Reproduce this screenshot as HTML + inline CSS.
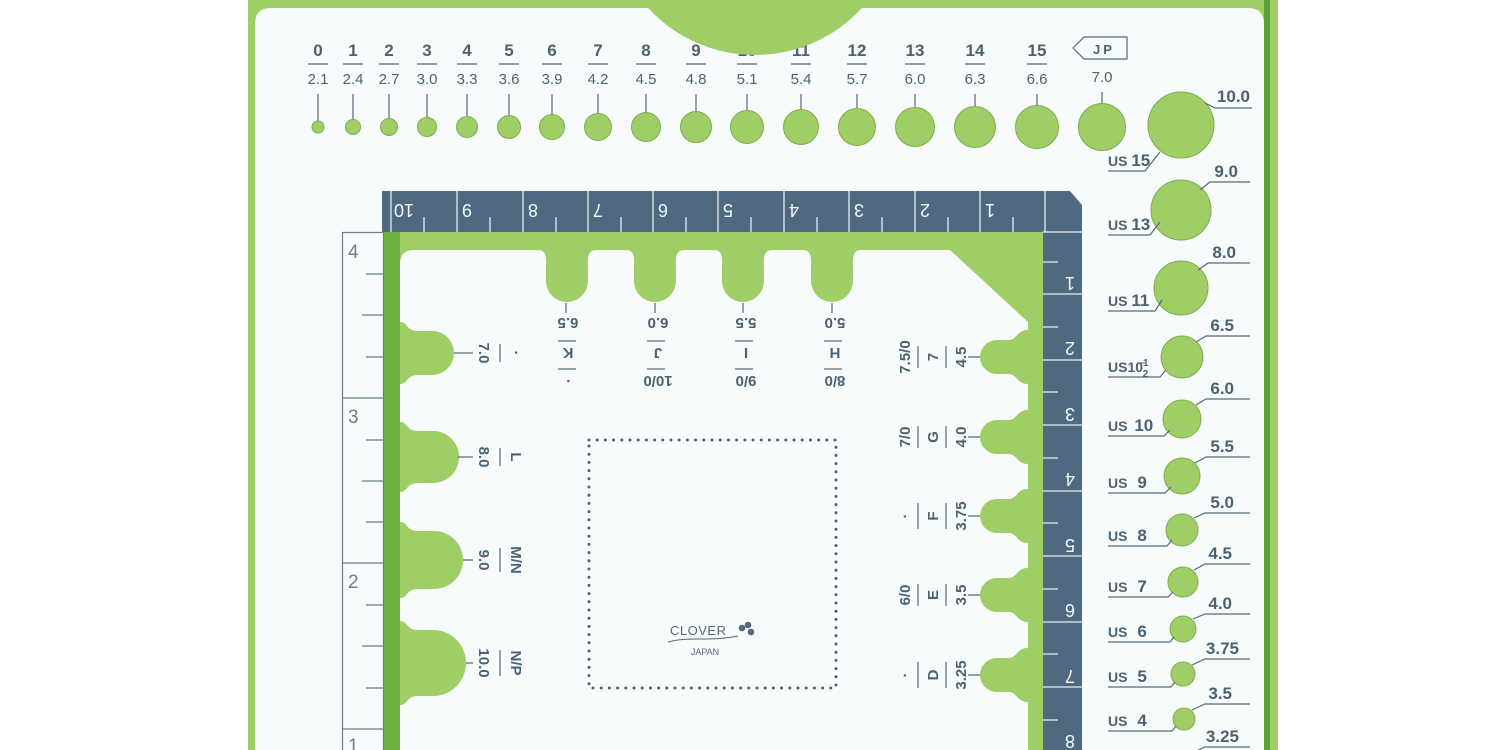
<!DOCTYPE html>
<html><head><meta charset="utf-8"><style>
html,body{margin:0;padding:0;background:#fff;}
svg{display:block;}
text{font-family:"Liberation Sans",sans-serif;fill:#4b6272;}
.b{font-weight:bold;}
.w{fill:#f4f8f8;font-weight:normal;}
</style></head><body>
<svg width="1500" height="750" viewBox="0 0 1500 750" xmlns="http://www.w3.org/2000/svg">
<rect x="0" y="0" width="1500" height="750" fill="#ffffff"/>
<rect x="248" y="0" width="1030" height="750" fill="#9fcd66"/>
<rect x="1264" y="0" width="6" height="750" fill="#5aa232"/>
<path d="M255,24 Q255,8 271,8 H1248 Q1264,8 1264,24 V750 H255 Z" fill="#f7fbfb"/>
<g font-size="17" class="b" text-anchor="middle">
<text x="318" y="56" class="b">0</text><text x="353" y="56" class="b">1</text><text x="389" y="56" class="b">2</text><text x="427" y="56" class="b">3</text><text x="467" y="56" class="b">4</text><text x="509" y="56" class="b">5</text><text x="552" y="56" class="b">6</text><text x="598" y="56" class="b">7</text><text x="646" y="56" class="b">8</text><text x="696" y="56" class="b">9</text><text x="747" y="56" class="b">10</text><text x="801" y="56" class="b">11</text><text x="857" y="56" class="b">12</text><text x="915" y="56" class="b">13</text><text x="975" y="56" class="b">14</text><text x="1037" y="56" class="b">15</text>
</g>
<g font-size="15" text-anchor="middle">
<text x="318" y="84">2.1</text><text x="353" y="84">2.4</text><text x="389" y="84">2.7</text><text x="427" y="84">3.0</text><text x="467" y="84">3.3</text><text x="509" y="84">3.6</text><text x="552" y="84">3.9</text><text x="598" y="84">4.2</text><text x="646" y="84">4.5</text><text x="696" y="84">4.8</text><text x="747" y="84">5.1</text><text x="801" y="84">5.4</text><text x="857" y="84">5.7</text><text x="915" y="84">6.0</text><text x="975" y="84">6.3</text><text x="1037" y="84">6.6</text><text x="1102" y="82">7.0</text>
</g>
<g stroke="#56697a" stroke-width="1.2">
<path d="M308,64H328M343,64H363M379,64H399M417,64H437M457,64H477M499,64H519M542,64H562M588,64H608M636,64H656M686,64H706M737,64H757M791,64H811M847,64H867M905,64H925M965,64H985M1027,64H1047"/>
<path d="M318,94V121M353,94V119M389,94V118M427,94V117M467,94V116M509,94V115M552,94V114M598,94V113M646,94V112M696,94V111M747,94V110M801,94V109M857,94V108M915,94V107M975,94V106M1037,94V105M1102,92V103"/>
</g>
<path d="M1073,48 L1084,37 H1127 V59 H1084 Z" fill="none" stroke="#56697a" stroke-width="1.2"/>
<text x="1104" y="54" font-size="13" class="b" text-anchor="middle" letter-spacing="3">JP</text>
<g fill="#9fcd66" stroke="#7fae4a" stroke-width="1">
<circle cx="318" cy="127" r="6"/><circle cx="353" cy="127" r="7.5"/><circle cx="389" cy="127" r="8.5"/><circle cx="427" cy="127" r="9.5"/><circle cx="467" cy="127" r="10.5"/><circle cx="509" cy="127" r="11.5"/><circle cx="552" cy="127" r="12.5"/><circle cx="598" cy="127" r="13.5"/><circle cx="646" cy="127" r="14.5"/><circle cx="696" cy="127" r="15.5"/><circle cx="747" cy="127" r="16.5"/><circle cx="801" cy="127" r="17.5"/><circle cx="857" cy="127" r="18.5"/><circle cx="915" cy="127" r="19.5"/><circle cx="975" cy="127" r="20.5"/><circle cx="1037" cy="127" r="21.5"/><circle cx="1102" cy="127" r="23.5"/>
</g>
<circle cx="755" cy="-90" r="145" fill="#9fcd66"/>

<g fill="#9fcd66" stroke="#7fae4a" stroke-width="1">
<circle cx="1181" cy="125" r="33"/><circle cx="1181" cy="210" r="30"/><circle cx="1181" cy="288" r="27"/><circle cx="1182" cy="357" r="21"/><circle cx="1182" cy="419" r="19"/><circle cx="1182" cy="476" r="18"/><circle cx="1182" cy="530" r="16"/><circle cx="1183" cy="582" r="15"/><circle cx="1183" cy="629" r="13"/><circle cx="1183" cy="674" r="12"/><circle cx="1184" cy="719" r="11"/><circle cx="1185" cy="762" r="10"/>
</g>
<g stroke="#56697a" stroke-width="1.2" fill="none">
<path d="M1205,103 L1215,108 H1252"/><path d="M1108,171 H1145 L1160,152"/>
<path d="M1200,190 L1210,182 H1250"/><path d="M1108,235 H1150 L1160,222"/>
<path d="M1198,270 L1208,263 H1250"/><path d="M1108,311 H1155 L1162,300"/>
<path d="M1196,342 L1206,336 H1250"/><path d="M1108,377 H1160 L1166,370"/>
<path d="M1196,405 L1206,399 H1250"/><path d="M1108,436 H1164 L1170,430"/>
<path d="M1195,463 L1206,457 H1250"/><path d="M1108,493 H1165 L1171,487"/>
<path d="M1194,518 L1205,513 H1250"/><path d="M1108,546 H1167 L1172,540"/>
<path d="M1194,570 L1205,564 H1250"/><path d="M1108,597 H1168 L1173,592"/>
<path d="M1193,619 L1205,614 H1250"/><path d="M1108,642 H1170 L1174,637"/>
<path d="M1192,665 L1205,659 H1250"/><path d="M1108,687 H1171 L1175,682"/>
<path d="M1192,710 L1205,704 H1250"/><path d="M1108,731 H1172 L1176,726"/>
<path d="M1192,753 L1205,747 H1250"/>
</g>
<g font-size="17" class="b" text-anchor="end">
<text x="1250" y="102" class="b">10.0</text><text x="1238" y="177" class="b">9.0</text><text x="1236" y="258" class="b">8.0</text><text x="1234" y="331" class="b">6.5</text><text x="1234" y="394" class="b">6.0</text><text x="1234" y="452" class="b">5.5</text><text x="1234" y="508" class="b">5.0</text><text x="1232" y="559" class="b">4.5</text><text x="1232" y="609" class="b">4.0</text><text x="1239" y="654" class="b">3.75</text><text x="1232" y="699" class="b">3.5</text><text x="1239" y="742" class="b">3.25</text>
</g>
<g class="b">
<text x="1108" y="166" font-size="14" class="b">US <tspan font-size="17">15</tspan></text>
<text x="1108" y="230" font-size="14" class="b">US <tspan font-size="17">13</tspan></text>
<text x="1108" y="306" font-size="14" class="b">US <tspan font-size="17">11</tspan></text>
<text x="1108" y="372" font-size="14" class="b">US10<tspan font-size="10" dy="-6">1</tspan><tspan font-size="10" dx="-6" dy="11">2</tspan></text>
<line x1="1137" y1="363" x2="1145" y2="363" stroke="#56697a" stroke-width="1"/>
<text x="1108" y="431" font-size="14" class="b">US <tspan font-size="17" dx="3">10</tspan></text>
<text x="1108" y="488" font-size="14" class="b">US <tspan font-size="17" dx="6">9</tspan></text>
<text x="1108" y="541" font-size="14" class="b">US <tspan font-size="17" dx="6">8</tspan></text>
<text x="1108" y="592" font-size="14" class="b">US <tspan font-size="17" dx="6">7</tspan></text>
<text x="1108" y="637" font-size="14" class="b">US <tspan font-size="17" dx="6">6</tspan></text>
<text x="1108" y="682" font-size="14" class="b">US <tspan font-size="17" dx="6">5</tspan></text>
<text x="1108" y="726" font-size="14" class="b">US <tspan font-size="17" dx="6">4</tspan></text>
</g>

<rect x="384" y="232" width="660" height="518" fill="#9fcd66"/>
<rect x="384" y="232" width="16" height="518" fill="#6bb33e"/>
<path d="M400,264 Q400,250 414,250 H950 L1028,322 V750 H400 Z" fill="#f7fbfb"/>
<g fill="#9fcd66">
<path d="M538,250 C548,250 546,262 546,270 V281 A21,21 0 0 0 588,281 V270 C588,262 586,250 596,250 Z"/>
<path d="M626,250 C636,250 634,262 634,270 V281 A21,21 0 0 0 676,281 V270 C676,262 674,250 684,250 Z"/>
<path d="M714,250 C724,250 722,262 722,270 V281 A21,21 0 0 0 764,281 V270 C764,262 762,250 772,250 Z"/>
<path d="M803,250 C813,250 811,262 811,270 V281 A21,21 0 0 0 853,281 V270 C853,262 851,250 861,250 Z"/>
<path d="M400,322 C408,322 406,331 418,331 H432 A22,22 0 0 1 432,375 H418 C406,375 408,384 400,384 Z"/>
<path d="M400,422 C408,422 406,431 418,431 H433 A26,26 0 0 1 433,483 H418 C406,483 408,492 400,492 Z"/>
<path d="M400,522 C408,522 406,531 418,531 H434 A29,29 0 0 1 434,589 H418 C406,589 408,598 400,598 Z"/>
<path d="M400,621 C408,621 406,630 418,630 H433 A33,33 0 0 1 433,696 H418 C406,696 408,705 400,705 Z"/>
<path d="M1028,330 C1016,330 1018,340 1008,340 H997 A17,17 0 0 0 997,374 H1008 C1018,374 1016,384 1028,384 Z"/>
<path d="M1028,410 C1016,410 1018,420 1008,420 H997 A17,17 0 0 0 997,454 H1008 C1018,454 1016,464 1028,464 Z"/>
<path d="M1028,489 C1016,489 1018,499 1008,499 H997 A17,17 0 0 0 997,533 H1008 C1018,533 1016,543 1028,543 Z"/>
<path d="M1028,568 C1016,568 1018,578 1008,578 H997 A17,17 0 0 0 997,612 H1008 C1018,612 1016,622 1028,622 Z"/>
<path d="M1028,648 C1016,648 1018,658 1008,658 H997 A17,17 0 0 0 997,692 H1008 C1018,692 1016,702 1028,702 Z"/>
</g>

<path d="M382,191 H1070 L1082,205 V750 H1043 V232 H382 Z" fill="#4f6a80"/>
<g stroke="#e8eef2" stroke-width="1.3">
<path d="M391,191V232M457,191V232M523,191V232M588,191V232M653,191V232M718,191V232M784,191V232M849,191V232M915,191V232M980,191V232M1045,191V232"/>
<path d="M424,217V232M490,217V232M556,217V232M621,217V232M686,217V232M751,217V232M817,217V232M882,217V232M948,217V232M1013,217V232"/>
<path d="M1043,232H1082M1043,294H1082M1043,360H1082M1043,425H1082M1043,491H1082M1043,556H1082M1043,622H1082M1043,687H1082"/>
<path d="M1043,262H1058M1043,327H1058M1043,392H1058M1043,458H1058M1043,523H1058M1043,589H1058M1043,654H1058M1043,720H1058"/>
</g>
<g font-size="18" class="w" text-anchor="middle">
<text transform="translate(404,204) rotate(180)" class="w">10</text>
<text transform="translate(467,204) rotate(180)" class="w">9</text>
<text transform="translate(533,204) rotate(180)" class="w">8</text>
<text transform="translate(598,204) rotate(180)" class="w">7</text>
<text transform="translate(663,204) rotate(180)" class="w">6</text>
<text transform="translate(728,204) rotate(180)" class="w">5</text>
<text transform="translate(794,204) rotate(180)" class="w">4</text>
<text transform="translate(859,204) rotate(180)" class="w">3</text>
<text transform="translate(925,204) rotate(180)" class="w">2</text>
<text transform="translate(990,204) rotate(180)" class="w">1</text>
<text transform="translate(1070,277) rotate(180)" class="w">1</text>
<text transform="translate(1070,342) rotate(180)" class="w">2</text>
<text transform="translate(1070,408) rotate(180)" class="w">3</text>
<text transform="translate(1070,473) rotate(180)" class="w">4</text>
<text transform="translate(1070,539) rotate(180)" class="w">5</text>
<text transform="translate(1070,604) rotate(180)" class="w">6</text>
<text transform="translate(1070,670) rotate(180)" class="w">7</text>
<text transform="translate(1070,735) rotate(180)" class="w">8</text>
</g>

<rect x="342.5" y="232.5" width="41" height="530" fill="#f7fbfb" stroke="#6d7e8a" stroke-width="1.2"/>
<g stroke="#6d7e8a" stroke-width="1.2">
<path d="M342,398H384M342,563H384M342,729H384"/>
<path d="M366,274H384M362,315H384M366,357H384M366,440H384M362,481H384M366,522H384M366,605H384M362,646H384M366,688H384"/>
</g>
<g font-size="19">
<text x="348" y="258" style="fill:#6d7e8a">4</text><text x="348" y="423" style="fill:#6d7e8a">3</text><text x="348" y="588" style="fill:#6d7e8a">2</text><text x="348" y="752" style="fill:#6d7e8a">1</text>
</g>

<g stroke="#56697a" stroke-width="1.2">
<path d="M566,303V313M655,303V313M743,303V313M832,303V313"/>
<path d="M558,341H576M647,341H665M735,341H753M824,341H842"/>
<path d="M558,369H576M647,369H665M735,369H753M824,369H842"/>
</g>
<g font-size="15" class="b" text-anchor="middle">
<text transform="translate(568,318) rotate(180)" class="b">6.5</text>
<text transform="translate(568,348) rotate(180)" class="b">K</text>
<text transform="translate(568,376) rotate(180)" class="b">·</text>
<text transform="translate(658,318) rotate(180)" class="b">6.0</text>
<text transform="translate(658,348) rotate(180)" class="b">J</text>
<text transform="translate(658,376) rotate(180)" class="b">10/0</text>
<text transform="translate(746,318) rotate(180)" class="b">5.5</text>
<text transform="translate(746,348) rotate(180)" class="b">I</text>
<text transform="translate(746,376) rotate(180)" class="b">9/0</text>
<text transform="translate(835,318) rotate(180)" class="b">5.0</text>
<text transform="translate(835,348) rotate(180)" class="b">H</text>
<text transform="translate(835,376) rotate(180)" class="b">8/0</text>
</g>

<g stroke="#56697a" stroke-width="1.2">
<path d="M454,353H473M458,457H473M463,560H473M466,663H473"/>
<path d="M500,344V362M500,448V466M500,548V572M500,650V676"/>
</g>
<g font-size="15" class="b" text-anchor="middle">
<text transform="translate(479,353) rotate(90)" class="b">7.0</text>
<text transform="translate(511,353) rotate(90)" class="b">·</text>
<text transform="translate(479,457) rotate(90)" class="b">8.0</text>
<text transform="translate(511,457) rotate(90)" class="b">L</text>
<text transform="translate(479,560) rotate(90)" class="b">9.0</text>
<text transform="translate(511,560) rotate(90)" class="b">M/N</text>
<text transform="translate(479,663) rotate(90)" class="b">10.0</text>
<text transform="translate(511,663) rotate(90)" class="b">N/P</text>
</g>

<g stroke="#56697a" stroke-width="1.2">
<path d="M968,357H980M968,437H980M968,516H980M968,595H980M968,675H980"/>
<path d="M946,346V368M946,426V448M946,503V529M946,584V606M946,662V688"/>
<path d="M918,346V368M918,426V448M918,503V529M918,584V606M918,662V688"/>
</g>
<g font-size="15" class="b" text-anchor="middle">
<text transform="translate(966,357) rotate(-90)" class="b">4.5</text>
<text transform="translate(938,357) rotate(-90)" class="b">7</text>
<text transform="translate(910,357) rotate(-90)" class="b">7.5/0</text>
<text transform="translate(966,437) rotate(-90)" class="b">4.0</text>
<text transform="translate(938,437) rotate(-90)" class="b">G</text>
<text transform="translate(910,437) rotate(-90)" class="b">7/0</text>
<text transform="translate(966,516) rotate(-90)" class="b">3.75</text>
<text transform="translate(938,516) rotate(-90)" class="b">F</text>
<text transform="translate(910,516) rotate(-90)" class="b">·</text>
<text transform="translate(966,595) rotate(-90)" class="b">3.5</text>
<text transform="translate(938,595) rotate(-90)" class="b">E</text>
<text transform="translate(910,595) rotate(-90)" class="b">6/0</text>
<text transform="translate(966,675) rotate(-90)" class="b">3.25</text>
<text transform="translate(938,675) rotate(-90)" class="b">D</text>
<text transform="translate(910,675) rotate(-90)" class="b">·</text>
</g>

<rect x="589" y="440" width="247" height="248" fill="none" stroke="#4b6070" stroke-width="3" stroke-linecap="round" stroke-dasharray="0 8.2"/>
<text x="670" y="635" font-size="13" letter-spacing="0.5" style="fill:#56697a">CLOVER</text>
<g fill="#56697a"><circle cx="742" cy="628" r="3.3"/><circle cx="748" cy="625" r="3.3"/><circle cx="751" cy="632" r="3.3"/></g>
<path d="M668,642 C690,636 710,642 738,636" stroke="#56697a" stroke-width="1" fill="none"/>
<text x="705" y="655" font-size="9" text-anchor="middle" style="fill:#56697a">JAPAN</text>
</svg>
</body></html>
